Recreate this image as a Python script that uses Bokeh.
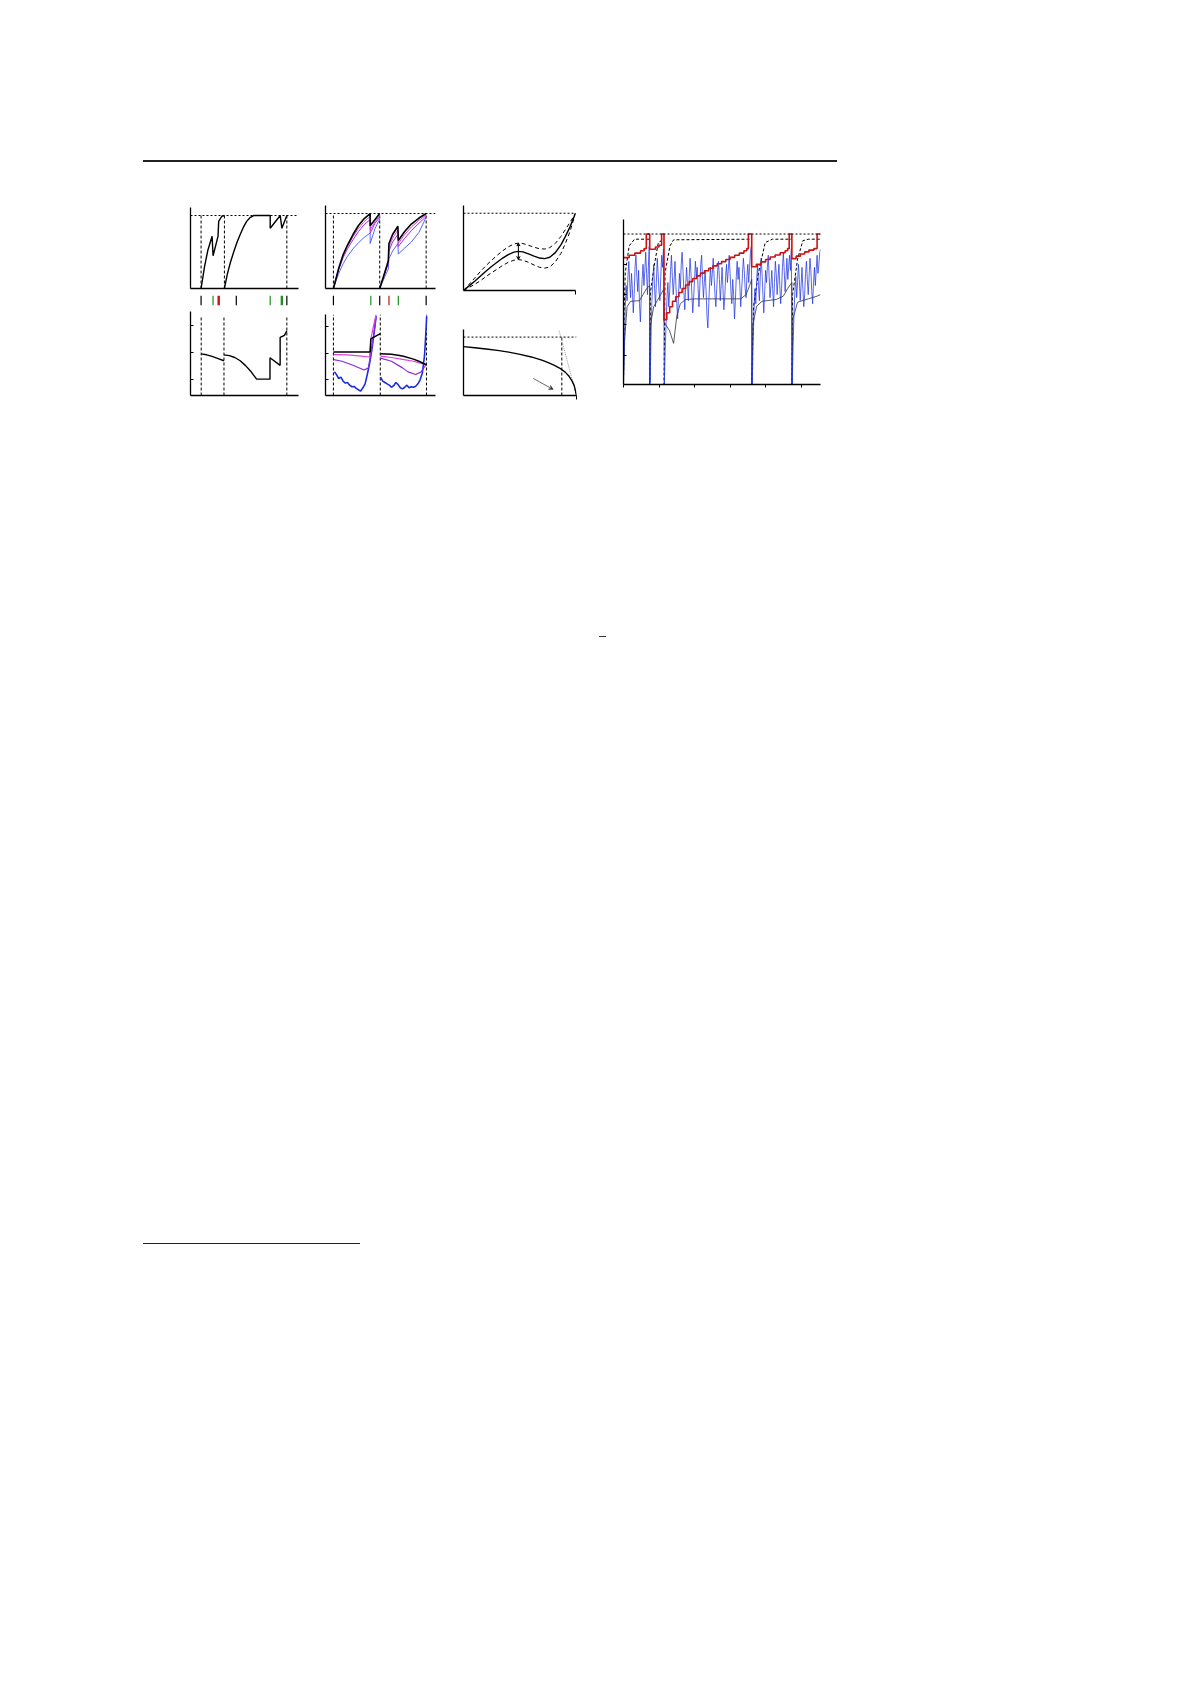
from bokeh.plotting import figure
from bokeh.layouts import row, column
from bokeh.models import Spacer, Div, FixedTicker, Arrow, VeeHead, Span, CustomJSTickFormatter
from bokeh.embed import file_html
from bokeh.resources import INLINE

NaN = float("nan")

# ---------------- Panel A (top): accumulated value with resets ----------------
A_top_x = [0.98, 1.3, 1.6, 2.0, 2.09, 2.55, 2.61, 2.9, 3.14, NaN,
           3.14, 3.4, 3.7, 4.0, 4.3, 4.6, 4.9, 5.2, 5.5, 5.85, 7.38, 7.38, 8.31, 8.46, 8.92]
A_top_y = [0.0, 0.3, 0.52, 0.717, 0.448, 0.717, 0.92, 0.99, 1.0, NaN,
           0.0, 0.19, 0.36, 0.5, 0.63, 0.74, 0.84, 0.92, 0.97, 1.0, 1.0, 0.825, 1.0, 0.825, 1.0]
A_events = [0.98, 3.14, 8.92]
A_tick_x = [0.98, 2.09, 2.61, 4.24, 7.38, 8.46, 8.92]
A_tick_color = ["black", "#1f8f1f", "#cc1111", "black", "#1f8f1f", "#1f8f1f", "black"]
A_tick_w = [1.2, 1.2, 2.4, 1.2, 1.2, 2.4, 1.2]

# ---------------- Panel A (bottom) ----------------
A_bot_x = [0.99, 1.5, 2.0, 2.5, 3.1, NaN,
           3.1, 3.6, 4.1, 4.6, 5.1, 5.6, 6.12, 7.36, 7.36, 8.3, 8.3, 8.7, 8.92]
A_bot_y = [1.935, 1.9, 1.84, 1.77, 1.68, NaN,
           1.896, 1.87, 1.8, 1.68, 1.5, 1.28, 1.0, 1.0, 1.79, 1.51, 2.54, 2.62, 2.79]
A_bot_events = [0.99, 3.1, 8.92]
A_bot_ticks = [1, 2, 3]

# ---------------- Panel B (top) ----------------
B_events = [0.72, 4.93, 9.15]
B_blk_x = [0.72, 1.2, 1.6, 2.0, 2.5, 3.0, 3.5, 4.06, 4.06, 4.93, NaN,
           4.93, 5.4, 5.71, 5.77, 6.1, 6.58, 6.62, 7.2, 7.8, 8.5, 9.15]
B_blk_y = [0.0, 0.27, 0.45, 0.58, 0.72, 0.84, 0.93, 1.0, 0.837, 1.0, NaN,
           0.0, 0.22, 0.37, 0.6, 0.72, 0.83, 0.64, 0.76, 0.86, 0.94, 1.0]
B_mag_x = [0.72, 1.2, 1.6, 2.0, 2.5, 3.0, 3.5, 4.06, 4.06, 4.5, 4.93, NaN,
           4.93, 5.4, 5.71, 5.77, 6.1, 6.58, 6.62, 7.2, 7.8, 8.5, 9.15]
B_mag_y = [0.0, 0.26, 0.43, 0.56, 0.69, 0.8, 0.89, 0.96, 0.78, 0.89, 0.97, NaN,
           0.0, 0.21, 0.35, 0.55, 0.67, 0.78, 0.6, 0.72, 0.82, 0.91, 0.98]
B_pur_y = [0.0, 0.25, 0.41, 0.53, 0.65, 0.76, 0.85, 0.92, 0.74, 0.87, 0.95, NaN,
           0.0, 0.2, 0.33, 0.5, 0.62, 0.72, 0.56, 0.67, 0.77, 0.87, 0.96]
B_blu_y = [0.0, 0.2, 0.33, 0.43, 0.53, 0.61, 0.68, 0.74, 0.6, 0.8, 0.93, NaN,
           0.0, 0.16, 0.26, 0.4, 0.5, 0.6, 0.46, 0.54, 0.62, 0.75, 0.95]
B_tick_x = [0.72, 4.12, 4.93, 5.77, 6.62, 9.15]
B_tick_color = ["black", "#1f8f1f", "black", "#cc1111", "#1f8f1f", "black"]

# ---------------- Panel B (bottom) ----------------
B_bot_events = [0.72, 4.98, 9.18]
B_bot_ticks = [1, 2, 3]
Bb_blk_x = [0.72, 4.06, 4.12, 4.98, NaN, 4.98, 6.0, 7.0, 8.0, 8.6, 9.18]
Bb_blk_y = [2.05, 2.05, 2.54, 2.74, NaN, 1.98, 1.96, 1.9, 1.78, 1.68, 1.56]
Bb_mag_x = [0.75, 2.0, 3.0, 4.0, 4.15, 4.4, 4.6, NaN, 5.0, 6.0, 7.0, 8.0, 8.7, 9.1]
Bb_mag_y = [1.95, 1.94, 1.9, 1.86, 2.6, 3.1, 3.46, NaN, 1.89, 1.84, 1.77, 1.7, 1.62, 1.59]
Bb_pur_x = [0.75, 1.5, 2.5, 3.5, 3.9, 4.2, 4.45, 4.6, NaN, 5.0, 6.0, 7.0, 7.5, 8.2, 8.7, 9.1]
Bb_pur_y = [1.76, 1.7, 1.55, 1.37, 1.45, 2.2, 2.9, 3.4, NaN, 1.82, 1.7, 1.45, 1.3, 1.2, 1.3, 1.55]
Bb_blu_x = [0.8, 1.0, 1.2, 1.4, 1.6, 1.8, 2.0, 2.2, 2.4, 2.6, 2.8, 3.0, 3.2, 3.4, 3.6, 3.8, 4.0,
            4.2, 4.4, 4.6, NaN, 5.0, 5.2, 5.4, 5.6, 5.8, 6.0, 6.2, 6.4, 6.6, 6.8, 7.0, 7.2, 7.4,
            7.6, 7.8, 8.0, 8.2, 8.4, 8.6, 8.8, 9.0, 9.1, 9.2]
Bb_blu_y = [1.3, 1.2, 1.05, 1.1, 0.95, 0.88, 0.9, 0.8, 0.74, 0.75, 0.68, 0.62, 0.58, 0.7, 0.85,
            1.2, 1.6, 2.1, 2.7, 3.4, NaN, 1.1, 0.95, 0.9, 0.85, 0.8, 0.72, 0.78, 0.9, 0.82, 0.7,
            0.66, 0.72, 0.8, 0.7, 0.74, 0.72, 0.76, 0.85, 1.0, 1.25, 1.9, 2.6, 3.4]

# ---------------- Panel C (top): mean with band ----------------
C_x = [0, 0.05, 0.1, 0.15, 0.2, 0.25, 0.3, 0.35, 0.4, 0.45, 0.49, 0.53, 0.58, 0.63, 0.68,
       0.725, 0.77, 0.82, 0.87, 0.91, 0.95, 1.0]
C_mid = [0, 0.06, 0.12, 0.185, 0.25, 0.31, 0.365, 0.42, 0.465, 0.497, 0.507, 0.5, 0.475,
         0.445, 0.42, 0.413, 0.43, 0.49, 0.59, 0.7, 0.82, 1.0]
C_up = [0, 0.08, 0.16, 0.245, 0.32, 0.39, 0.455, 0.515, 0.565, 0.602, 0.614, 0.608, 0.585,
        0.56, 0.54, 0.537, 0.555, 0.61, 0.7, 0.79, 0.88, 1.0]
C_lo = [0, 0.04, 0.08, 0.125, 0.18, 0.23, 0.275, 0.325, 0.365, 0.392, 0.4, 0.392, 0.365,
        0.33, 0.3, 0.289, 0.305, 0.37, 0.48, 0.61, 0.76, 1.0]
C_arrow = [0.49, 0.614, 0.4]

# ---------------- Panel C (bottom) ----------------
Cb_x = [0, 0.1, 0.2, 0.3, 0.4, 0.5, 0.6, 0.7, 0.75, 0.8, 0.85, 0.9, 0.93, 0.96, 0.98, 1.0]
Cb_y = [0.836, 0.818, 0.797, 0.772, 0.742, 0.705, 0.66, 0.6, 0.563, 0.52, 0.47, 0.4, 0.34,
        0.25, 0.17, 0.0]
Cb_vline = 0.87
Cb_tan_x = [0.846, 1.0]
Cb_tan_y = [1.11, 0.0]
Cb_arrow = [0.617, 0.292, 0.793, 0.105]

# ---------------- Panel D: signal with resets ----------------
D_xticks = [0, 1, 2, 3, 4, 5]
D_yticks = [1, 2, 3, 4]
D_red_x = [0, 0.16, 0.32, 0.48, 0.58, 0.642,
           0.738, 0.9, 1.0, 1.073,
           1.14, 1.22, 1.30, 1.38, 1.47, 1.56, 1.65, 1.75, 1.85, 1.95, 2.06, 2.17, 2.28, 2.40,
           2.52, 2.64, 2.76, 2.88, 3.00, 3.13, 3.26, 3.39, 3.47, 3.515,
           3.61, 3.74, 3.87, 4.00, 4.13, 4.27, 4.41, 4.55, 4.62, 4.665,
           4.74, 4.86, 4.98, 5.10, 5.22, 5.36, 5.45, 5.546]
D_red_y = [4.22, 4.30, 4.37, 4.45, 4.52, 5.0,
           4.50, 4.57, 4.63, 5.0,
           2.17, 2.40, 2.60, 2.78, 2.93, 3.07, 3.20, 3.32, 3.43, 3.53, 3.62, 3.71, 3.79, 3.87,
           3.95, 4.02, 4.09, 4.16, 4.23, 4.30, 4.37, 4.45, 4.52, 5.0,
           3.92, 4.00, 4.08, 4.16, 4.24, 4.31, 4.38, 4.45, 4.52, 5.0,
           4.19, 4.27, 4.34, 4.41, 4.47, 4.52, 5.0, 5.0]
D_dash_x = [0.0, 0.02, 0.05, 0.16, 0.31, 0.738, NaN,
            0.738, 0.757, 0.88, 0.98, 1.14, NaN,
            1.14, 1.17, 1.31, 1.41, 3.61, NaN,
            3.61, 3.64, 3.66, 3.8, 3.99, 4.19, 4.74, NaN,
            4.74, 4.76, 4.9, 5.05, 5.2, 5.546]
D_dash_y = [0.0, 2.5, 3.72, 4.61, 4.83, 4.83, NaN,
            0.0, 3.06, 4.06, 4.72, 4.83, NaN,
            0.0, 3.72, 4.61, 4.81, 4.83, NaN,
            0.0, 1.5, 2.6, 3.72, 4.72, 4.83, 4.83, NaN,
            0.0, 3.0, 4.17, 4.78, 4.83, 4.83]
D_sol_x = [0.0, 0.03, 0.1, 0.2, 0.45, 0.55, 0.65, 0.738, 0.738,
           0.76, 0.85, 0.95, 1.05, 1.14, 1.14,
           1.3, 1.41, 1.5, 1.6, 1.75, 2.0, 3.3, 3.45, 3.55, 3.61, 3.61,
           3.64, 3.75, 3.9, 4.3, 4.5, 4.62, 4.74, 4.74,
           4.77, 4.9, 5.2, 5.45, 5.546]
D_sol_y = [0.0, 1.5, 2.6, 2.78, 2.8, 3.0, 3.2, 3.3, 0.0,
           2.0, 2.6, 2.8, 3.0, 3.2, 2.1,
           1.8, 1.39, 2.3, 2.7, 2.84, 2.86, 2.86, 3.0, 3.3, 3.5, 0.0,
           2.0, 2.62, 2.78, 2.84, 2.95, 3.2, 3.4, 0.0,
           2.2, 2.75, 2.86, 2.95, 3.0]
D_blue_x = [i * 0.025 for i in range(223)]
D_blue_y = [
    # segment 1
    0.3, 1.2, 2.6, 3.3, 2.8, 3.6, 4.1, 3.4, 2.9, 3.7, 3.2, 2.4, 3.0, 3.9, 4.3,
    3.6, 3.1, 3.8, 2.7, 2.1, 2.9, 3.5, 4.0, 3.3, 3.8, 4.4, 3.7, 3.0, 3.9, 4.6,
    0.1,
    # segment 2
    1.6, 2.8, 3.5, 4.0, 3.2, 2.6, 3.4, 4.2, 3.7, 3.1, 2.8, 3.6, 4.3, 3.9, 4.5,
    0.05,
    # segment 3
    1.2, 2.1, 2.9, 3.4, 2.6, 3.1, 3.8, 4.3, 3.6, 3.0,
    3.5, 4.1, 3.3, 2.7, 2.2, 3.0, 3.7, 3.2, 4.0, 4.4,
    3.8, 3.1, 2.5, 3.3, 3.9, 3.4, 2.8, 3.6, 4.2, 3.7,
    3.0, 2.4, 2.9, 3.5, 4.1, 3.6, 3.9, 3.2, 2.6, 3.3,
    4.0, 4.3, 3.5, 2.9, 3.4, 3.8, 3.1, 2.3, 1.9, 2.7,
    3.4, 3.9, 3.3, 3.7, 4.2, 3.6, 3.0, 2.6, 3.2, 3.8,
    4.1, 3.5, 2.8, 3.3, 3.9, 3.2, 2.5, 2.9, 3.6, 4.0,
    3.4, 3.8, 4.3, 3.7, 3.1, 2.7, 3.5, 3.0, 2.2, 2.8,
    3.6, 4.1, 3.5, 3.9, 3.3, 2.6, 3.1, 3.7, 4.2, 3.8,
    3.2, 2.9, 3.6, 4.0, 3.4, 3.9, 4.4, 4.6,
    0.05,
    # segment 4
    1.4, 2.5, 3.2, 2.7, 3.5, 4.0, 3.3, 2.8, 3.6, 4.2,
    3.7, 3.0, 2.4, 3.1, 3.8, 3.4, 3.9, 4.3, 3.6, 2.9,
    3.3, 3.8, 3.2, 2.6, 3.4, 4.1, 3.7, 3.0, 3.5, 4.0,
    3.3, 2.7, 3.2, 3.9, 4.4, 3.8, 3.1, 3.6, 4.2, 3.5,
    3.9, 4.3, 3.8, 4.5,
    0.05,
    # segment 5
    1.3, 2.4, 3.1, 3.6, 2.9, 3.4, 4.0, 3.5, 2.8, 3.3,
    3.9, 3.2, 2.6, 3.0, 3.7, 4.1, 3.5, 3.0, 3.6, 4.2,
    3.8, 3.1, 2.7, 3.4, 3.9, 3.3, 3.8, 4.3, 3.7, 4.0,
    4.4, 4.5]

EMPTY = CustomJSTickFormatter(code="return '';")


def mk(xr, yr, fw, fh, lb=6, rb=6, tb=3, bb=3, xaxis=True, yaxis=True):
    p = figure(width=fw + lb + rb, height=fh + tb + bb, x_range=xr, y_range=yr,
               output_backend="svg", toolbar_location=None,
               min_border_left=lb, min_border_right=rb, min_border_top=tb, min_border_bottom=bb,
               x_axis_location="below" if xaxis else None,
               y_axis_location="left" if yaxis else None)
    p.grid.visible = False
    p.outline_line_color = None
    p.background_fill_color = "white"
    p.border_fill_color = "white"
    for ax in p.axis:
        ax.ticker = FixedTicker(ticks=[])
        ax.formatter = EMPTY
        ax.major_label_text_font_size = "2px"
        ax.major_label_standoff = 0
        ax.major_tick_out = 0
        ax.major_tick_in = 0
        ax.minor_tick_out = 0
        ax.minor_tick_in = 0
        ax.axis_line_color = "black"
        ax.axis_line_width = 1.3
        ax.major_tick_line_color = "black"
    return p


def vlines(p, xs, y0, y1, color="black", dash="3 2", width=1.0):
    p.segment(x0=xs, y0=[y0] * len(xs), x1=xs, y1=[y1] * len(xs),
              line_color=color, line_dash=dash, line_width=width)


# ---- A top
pA = mk((0, 10), (0, 1.11), 108, 81)
pA.add_layout(Span(location=1.0, dimension="width", line_dash="2 2", line_color="black", line_width=1))
vlines(pA, A_events, 0, 1.0)
pA.line(A_top_x, A_top_y, line_color="black", line_width=1.4)

# ---- A ticks row
pAt = mk((0, 10), (0, 1), 108, 10, xaxis=False, yaxis=False)
pAt.segment(x0=A_tick_x, y0=[0] * len(A_tick_x), x1=A_tick_x, y1=[1] * len(A_tick_x),
            line_color=A_tick_color, line_width=A_tick_w)

# ---- A bottom
pAb = mk((0, 10), (0.396, 3.5), 108, 84)
pAb.yaxis.ticker = FixedTicker(ticks=A_bot_ticks)
pAb.yaxis.major_tick_in = 3
vlines(pAb, A_bot_events, 0.396, 3.3)
pAb.line(A_bot_x, A_bot_y, line_color="black", line_width=1.4)

# ---- B top
pB = mk((0, 10), (0, 1.107), 110, 83)
pB.add_layout(Span(location=1.0, dimension="width", line_dash="2 2", line_color="black", line_width=1))
vlines(pB, B_events, 0, 1.0)
pB.line(B_mag_x, B_blu_y, line_color="#4455ff", line_width=0.9)
pB.line(B_mag_x, B_pur_y, line_color="#9b30d9", line_width=1.0)
pB.line(B_mag_x, B_mag_y, line_color="#e040e0", line_width=1.0)
pB.line(B_blk_x, B_blk_y, line_color="black", line_width=1.6)

# ---- B ticks row
pBt = mk((0, 10), (0, 1), 110, 10, xaxis=False, yaxis=False)
pBt.segment(x0=B_tick_x, y0=[0] * len(B_tick_x), x1=B_tick_x, y1=[1] * len(B_tick_x),
            line_color=B_tick_color, line_width=1.2)

# ---- B bottom
pBb = mk((0, 10), (0.41, 3.46), 110, 81)
pBb.yaxis.ticker = FixedTicker(ticks=B_bot_ticks)
pBb.yaxis.major_tick_in = 3
vlines(pBb, B_bot_events, 0.41, 3.46)
pBb.line(Bb_blu_x, Bb_blu_y, line_color="#1a2ee0", line_width=1.6)
pBb.line(Bb_pur_x, Bb_pur_y, line_color="#8a2be2", line_width=1.2)
pBb.line(Bb_mag_x, Bb_mag_y, line_color="#e040e0", line_width=1.2)
pBb.line(Bb_blk_x, Bb_blk_y, line_color="black", line_width=1.5)

# ---- C top
pC = mk((0, 1.0), (0, 1.1), 112, 85, bb=8)
pC.xaxis.ticker = FixedTicker(ticks=[0.999])
pC.xaxis.major_tick_out = 4
pC.add_layout(Span(location=1.0, dimension="width", line_dash="2 2", line_color="black", line_width=1))
pC.line(C_x, C_up, line_color="black", line_dash="4 3", line_width=1.0)
pC.line(C_x, C_lo, line_color="black", line_dash="4 3", line_width=1.0)
pC.line(C_x, C_mid, line_color="black", line_width=1.4)
pC.add_layout(Arrow(x_start=C_arrow[0], y_start=C_arrow[1], x_end=C_arrow[0], y_end=C_arrow[2],
                    line_width=1, start=VeeHead(size=3, line_width=1), end=VeeHead(size=3, line_width=1)))

# ---- C bottom
pCb = mk((0, 1.0), (0, 1.13), 113, 66, bb=8)
pCb.xaxis.ticker = FixedTicker(ticks=[0.999])
pCb.xaxis.major_tick_out = 4
pCb.add_layout(Span(location=1.0, dimension="width", line_dash="2 2", line_color="black", line_width=1))
vlines(pCb, [Cb_vline], 0, 1.0)
pCb.line(Cb_tan_x, Cb_tan_y, line_color="#999999", line_dash="1 1", line_width=1)
pCb.line(Cb_x, Cb_y, line_color="black", line_width=1.4)
pCb.add_layout(Arrow(x_start=Cb_arrow[0], y_start=Cb_arrow[1], x_end=Cb_arrow[2], y_end=Cb_arrow[3],
                     line_width=0.8, line_color="#444444",
                     end=VeeHead(size=4, line_width=0.8, line_color="#444444")))

# ---- D
pD = mk((0, 5.546), (0.033, 5.48), 197, 165, bb=8)
pD.xaxis.ticker = FixedTicker(ticks=D_xticks)
pD.xaxis.major_tick_out = 3
pD.yaxis.ticker = FixedTicker(ticks=D_yticks)
pD.yaxis.major_tick_in = 3
pD.add_layout(Span(location=5.0, dimension="width", line_dash="2 2", line_color="black", line_width=1))
pD.line(D_dash_x, D_dash_y, line_color="black", line_dash="3 2", line_width=1.0)
pD.line(D_sol_x, D_sol_y, line_color="#333333", line_width=1.0, line_alpha=0.8)
pD.line(D_blue_x, D_blue_y, line_color="#1a2ee0", line_width=0.9, line_alpha=0.8)
pD.step(D_red_x, D_red_y, mode="after", line_color="#cc1111", line_width=1.6)

colA = column(Spacer(height=2), pA, Spacer(height=1), pAt, pAb)
colB = column(pB, Spacer(height=1), pBt, Spacer(height=3), pBb)
colC = column(pC, Spacer(height=28), pCb)
colD = column(Spacer(height=14), pD)
panels = row(Spacer(width=184), colA, Spacer(width=15), colB, Spacer(width=16), colC,
             Spacer(width=35), colD)

rule_top = Div(text="", width=694, height=2, styles={"background-color": "#222222"})
dash_mark = Div(text="", width=7, height=1, styles={"background-color": "#333333"})
rule_foot = Div(text="", width=217, height=1, styles={"background-color": "#222222"})

page = column(
    Spacer(height=155),
    row(Spacer(width=138), rule_top),
    Spacer(height=35),
    panels,
    Spacer(height=228),
    row(Spacer(width=594), dash_mark),
    Spacer(height=596),
    row(Spacer(width=138), rule_foot),
)

with open("out.html", "w") as f:
    f.write(file_html(page, INLINE))
